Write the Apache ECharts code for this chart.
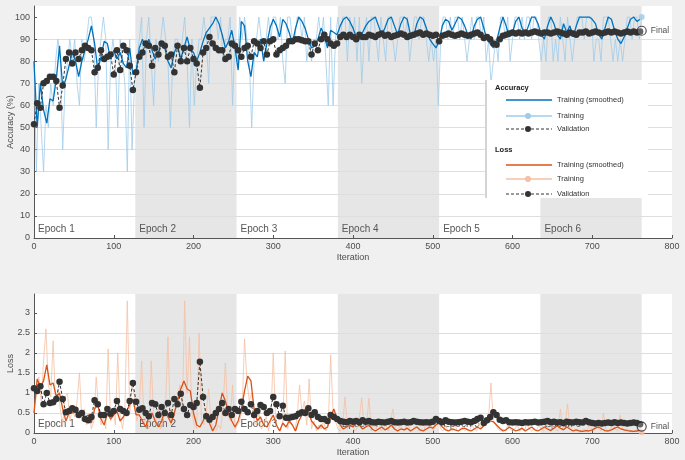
<!DOCTYPE html>
<html><head><meta charset="utf-8">
<script src="https://cdn.jsdelivr.net/npm/echarts@6/dist/echarts.min.js"></script>
<style>html,body{margin:0;padding:0;background:#f0f0f0;}#c{width:685px;height:460px;}</style>
</head><body><div id="c"></div>
<script>
// ---------- data ----------
const epochNames = ['Epoch 1','Epoch 2','Epoch 3','Epoch 4','Epoch 5','Epoch 6'];
const epochBounds = [0,127,254,381,508,635,762];
const xTicks = [0,100,200,300,400,500,600,700,800];
const accTicks = [0,10,20,30,40,50,60,70,80,90,100];
const lossTicks = [0,0.5,1,1.5,2,2.5,3];
const legendGroups = ['Accuracy','Loss'];
const legendLabels = ['Training (smoothed)','Training','Validation'];
const rawStep = 3;     // iterations between raw training samples
const avgStep = 4;     // iterations between smoothed / validation samples

const accRaw = [
 80,30,70,50,30,60,50,70,60,80,
 90,80,40,70,80,90,80,90,70,60,
 90,80,90,100,100,90,50,80,90,100,
 90,40,80,90,80,50,90,80,70,30,
 90,40,70,80,90,100,50,90,100,80,
 60,90,80,90,100,90,80,50,80,90,
 90,80,90,100,80,50,90,60,80,90,
 90,100,90,70,100,100,100,90,100,80,
 90,90,100,60,90,80,100,90,100,90,
 80,50,80,90,100,90,80,90,100,90,
 100,100,90,100,80,70,100,100,90,90,
 100,100,90,100,80,90,80,90,90,100,
 90,100,80,60,100,60,90,100,90,100,
 100,80,100,90,100,80,100,70,90,100,
 80,100,100,90,80,100,90,80,100,100,
 90,80,90,100,100,90,100,80,90,100,
 100,90,100,100,90,80,90,80,90,60,
 90,100,100,90,100,90,100,100,90,100,
 90,80,90,100,90,100,100,90,100,80,
 90,70,80,90,80,100,100,90,100,80,
 90,100,100,90,100,90,100,100,90,100,
 100,90,80,90,80,100,100,80,90,80,
 100,90,80,100,90,80,90,100,100,100,
 90,100,100,100,80,90,90,80,100,100,
 100,90,80,90,80,90,80,90,100,100,
 90,100,100,90,100];

const accSmooth = [
 80,50,70,58,52,63,62,72,87,68,
 72,78,84,80,73,80,85,90,96,88,
 76,82,89,88,81,85,81,84,79,77,
 86,74,75,86,90,86,90,85,81,84,
 89,86,80,77,84,87,81,86,91,85,
 84,80,84,89,93,95,97,100,97,92,
 86,89,94,86,76,98,96,80,73,84,
 82,90,80,88,95,99,96,91,99,97,
 93,88,95,100,98,95,90,86,87,90,
 95,92,86,94,93,92,96,99,100,98,
 95,91,90,93,96,98,99,100,96,92,
 95,99,100,96,92,97,100,99,92,91,
 97,100,99,95,90,88,86,89,96,99,
 98,94,97,100,99,96,92,90,96,99,
 100,95,90,88,86,89,95,100,96,91,
 93,98,100,95,92,96,100,100,97,92,
 90,96,100,97,92,90,97,93,96,91,
 96,100,100,100,100,99,97,92,90,95,
 100,99,94,90,88,91,95,99,100,98,
 99];

const accVal = [
 51.5,61,59,70,71,73,73,71,59,69,
 81,84,79,84,81,85,87,86,85,75,
 77,85,81,82,83,74,85,76,87,85,
 78,67,75,82,84,88,87,78,86,83,
 88,87,82,83,75,87,80,86,80,86,
 81,79,68,84,86,91,88,86,85,85,
 81,82,88,87,85,82,86,87,82,89,
 88,86,89,83,89,90,83,85,86,87,
 89,89,90,90,89.5,89,89,83,88,85,
 90,92,90,88,87,88,91,92,91,92,
 91,90,92,91,91,92,91.5,91,92,92.5,
 91.5,92,91,91.5,92,92.5,92,91,91.5,92,
 92.5,93,92,92.5,92,91.5,92,89,91.5,92,
 92.5,92,91.5,92,92.5,92,91.5,92,92.5,93,
 92,90.5,91,90,88,87.5,90,91.5,92,92.5,
 93,92.5,93,92.5,93,92.5,93,93.5,93,92.5,
 93,93,92.5,93,93.5,93,92.5,92,93,92.5,
 92,93,93,93.5,92.5,93,93.5,93,92.5,93,
 93.5,93,93.5,93,92.5,93,93.5,93,93.5,93,
 93.5];

const lossRaw = [
 0.5,0.95,1.4,0.8,1.8,2.6,1.2,0.9,2.3,0.7,
 1.1,0.6,0.2,0.9,1.0,0.3,0.6,0.4,0.8,1.5,
 0.3,0.6,0.2,0.5,0.1,0.3,1.4,0.6,0.2,0.4,
 0.1,2.1,0.3,0.6,0.2,2.0,0.4,0.1,0.6,3.3,
 0.5,1.2,0.9,0.3,0.6,1.8,0.2,0.5,0.1,1.8,
 0.4,0.2,0.6,0.1,0.3,0.7,2.4,0.2,0.4,0.6,
 0.9,1.2,0.6,3.3,1.0,2.4,0.5,0.2,0.1,2.5,
 0.3,0.2,0.5,1.1,0.3,0.1,0.05,0.2,0.1,0.6,
 1.75,0.5,0.3,1.2,0.1,0.2,0.3,0.6,2.35,1.3,
 0.8,1.0,0.3,0.2,0.5,0.1,0.2,0.4,0.05,0.3,
 2.0,0.3,0.1,0.05,0.3,2.05,0.1,0.3,0.2,0.05,
 0.4,1.2,0.5,0.8,0.2,1.35,0.1,0.3,0.05,0.2,
 0.1,0.3,0.05,0.2,1.95,0.5,0.3,0.1,0.05,0.2,
 0.9,0.1,0.2,0.3,0.05,0.1,0.4,0.88,0.1,0.2,
 0.87,0.05,0.2,0.1,0.3,0.05,0.1,0.2,0.05,0.3,
 0.6,0.1,0.05,0.2,0.1,0.05,0.3,0.1,0.05,0.15,
 0.2,0.05,0.1,0.05,0.3,0.1,0.2,0.05,0.3,0.35,
 0.1,0.05,0.2,0.05,0.1,0.05,0.2,0.05,0.1,0.15,
 0.05,0.1,0.05,0.2,0.1,0.05,0.25,0.1,0.3,0.2,
 0.4,1.25,0.3,0.2,0.1,0.05,0.1,0.05,0.2,0.1,
 0.05,0.1,0.2,0.05,0.1,0.05,0.25,0.1,0.05,0.1,
 0.05,0.2,0.1,0.05,0.3,0.1,0.05,0.2,0.1,0.05,
 0.6,0.1,0.2,0.73,0.1,0.05,0.1,0.05,0.02,0.05,
 0.1,0.05,0.2,0.1,0.05,0.3,0.1,0.05,0.5,0.1,
 0.05,0.1,0.2,0.1,0.05,0.45,0.1,0.05,0.1,0.05,
 0.02,0.05,0.1,0.05,0.02];

const lossSmooth = [
 0.5,1.35,1.15,1.3,1.7,1.2,1.25,0.9,1.0,0.6,
 0.3,0.5,0.5,0.55,0.45,0.5,0.4,0.45,0.25,0.6,
 0.7,0.35,0.2,0.5,0.35,0.45,0.55,0.3,0.4,0.55,
 0.7,0.85,0.45,0.45,0.3,0.15,0.4,0.5,0.3,0.15,
 0.3,0.55,0.4,0.25,0.5,0.8,1.1,1.3,1.1,1.05,
 0.5,0.2,0.15,0.3,0.5,0.25,0.05,0.2,0.6,1.0,
 0.8,0.5,0.3,0.15,0.3,0.6,1.05,1.42,1.3,0.6,
 0.3,0.4,0.2,0.15,0.3,0.45,0.2,0.05,0.25,0.15,
 0.3,0.2,0.05,0.3,0.45,0.6,0.55,0.3,0.2,0.1,
 0.2,0.1,0.15,0.4,0.6,0.35,0.2,0.1,0.15,0.2,
 0.15,0.25,0.2,0.1,0.15,0.2,0.1,0.05,0.1,0.15,
 0.08,0.12,0.2,0.1,0.05,0.1,0.08,0.12,0.05,0.1,
 0.15,0.08,0.05,0.1,0.15,0.12,0.2,0.25,0.15,0.08,
 0.05,0.1,0.08,0.05,0.1,0.12,0.08,0.05,0.1,0.15,
 0.1,0.18,0.25,0.3,0.28,0.2,0.12,0.05,0.08,0.15,
 0.1,0.05,0.08,0.12,0.05,0.1,0.15,0.08,0.05,0.1,
 0.15,0.1,0.06,0.12,0.18,0.12,0.08,0.15,0.1,0.05,
 0.08,0.05,0.04,0.06,0.05,0.08,0.12,0.15,0.1,0.06,
 0.05,0.08,0.12,0.15,0.1,0.08,0.06,0.05,0.04,0.05,
 0.06];

const lossVal = [
 1.12,1.05,1.17,0.72,1.0,0.75,0.77,0.85,1.28,0.85,
 0.52,0.55,0.62,0.58,0.45,0.5,0.35,0.32,0.4,0.82,
 0.72,0.45,0.45,0.6,0.48,0.55,0.8,0.6,0.55,0.5,
 0.8,1.25,0.78,0.58,0.62,0.5,0.42,0.75,0.72,0.45,
 0.65,0.5,0.75,0.45,0.85,0.72,0.98,0.6,0.45,0.7,
 0.65,0.75,1.78,0.9,0.42,0.33,0.4,0.5,0.6,0.75,
 0.5,0.6,0.45,0.6,0.55,0.78,0.6,0.52,0.72,0.45,
 0.55,0.7,0.65,0.5,0.55,0.9,0.72,0.42,0.68,0.38,
 0.38,0.4,0.42,0.48,0.52,0.5,0.62,0.45,0.52,0.4,
 0.35,0.35,0.3,0.45,0.4,0.35,0.3,0.28,0.27,0.3,
 0.28,0.3,0.27,0.32,0.28,0.3,0.27,0.26,0.28,0.27,
 0.26,0.28,0.3,0.27,0.26,0.27,0.28,0.26,0.27,0.3,
 0.28,0.27,0.26,0.27,0.26,0.28,0.35,0.3,0.27,0.32,
 0.28,0.27,0.26,0.27,0.28,0.3,0.28,0.27,0.3,0.35,
 0.38,0.25,0.32,0.4,0.52,0.45,0.33,0.3,0.32,0.27,
 0.26,0.27,0.26,0.25,0.27,0.26,0.27,0.28,0.26,0.27,
 0.28,0.3,0.27,0.28,0.26,0.27,0.25,0.28,0.27,0.26,
 0.28,0.27,0.26,0.3,0.27,0.25,0.24,0.25,0.24,0.25,
 0.26,0.25,0.27,0.25,0.26,0.25,0.24,0.25,0.26,0.25,
 0.22];

const finalIter = 762;
const finalAcc = 93.8;
const finalLoss = 0.16;
const finalLabel = 'Final';

// ---------- build ----------
const FONT = "'Liberation Sans', Arial, Helvetica, sans-serif";
const C = {
  accSmooth:'#0072bd', accRaw:'#9fcbea', val:'#333333',
  lossSmooth:'#d95319', lossRaw:'#f5c0a3', text:'#4d4d4d', grid:'#dedede', shade:'#e6e6e6'
};
const pairs = (arr, step) => arr.map((v, i) => [i * step, v]);

function epochAreas() {
  const out = [];
  for (let i = 0; i < epochNames.length; i++) {
    out.push([
      { name: epochNames[i], xAxis: epochBounds[i],
        itemStyle: { color: i % 2 === 1 ? C.shade : 'rgba(0,0,0,0)' } },
      { xAxis: epochBounds[i + 1] }
    ]);
  }
  return out;
}

function xAxisCfg(idx) {
  return {
    gridIndex: idx, type: 'value', min: 0, max: 800, interval: 100, z: 2,
    name: 'Iteration', nameLocation: 'middle', nameGap: 15, nameMoveOverlap: false,
    nameTextStyle: { color: C.text, fontSize: 9, fontFamily: FONT },
    axisLine: { show: true, onZero: false, lineStyle: { color: '#555', width: 1 } },
    axisTick: { show: true, inside: true, length: 3, customValues: xTicks, lineStyle: { color: '#555' } },
    axisLabel: { color: C.text, fontSize: 9, margin: 4, fontFamily: FONT, customValues: xTicks },
    splitLine: { show: false }
  };
}
function yAxisCfg(idx, max, ticks, name) {
  return {
    gridIndex: idx, type: 'value', min: 0, max: max, z: 2,
    name: name, nameLocation: 'middle', nameGap: 19, nameMoveOverlap: false,
    nameTextStyle: { color: C.text, fontSize: 9, fontFamily: FONT },
    axisLine: { show: true, onZero: false, lineStyle: { color: '#555', width: 1 } },
    axisTick: { show: true, inside: true, length: 3, customValues: ticks, lineStyle: { color: '#555' } },
    axisLabel: { color: C.text, fontSize: 9, margin: 4, fontFamily: FONT, customValues: ticks,
      formatter: v => ticks.includes(v) ? String(v) : '' },
    splitLine: { show: true, showMinLine: false, showMaxLine: false, lineStyle: { color: C.grid, width: 1 } }
  };
}

function panelSeries(idx, raw, smooth, val, rawColor, smoothColor, finalVal) {
  return [
    { type: 'line', xAxisIndex: idx, yAxisIndex: idx, data: [], z: 1, silent: true,
      markArea: { silent: true, data: epochAreas(),
        label: { show: true, position: 'insideBottomLeft', distance: 4,
          color: '#555', fontSize: 10, fontFamily: FONT } } },
    { type: 'line', xAxisIndex: idx, yAxisIndex: idx, data: pairs(raw, rawStep), z: 3,
      symbol: 'none', lineStyle: { color: rawColor, width: 0.8 }, silent: true },
    { type: 'line', xAxisIndex: idx, yAxisIndex: idx, data: pairs(smooth, avgStep), z: 4,
      symbol: 'none', lineStyle: { color: smoothColor, width: 1.3 }, silent: true },
    { type: 'line', xAxisIndex: idx, yAxisIndex: idx, data: pairs(val, avgStep), z: 5,
      symbol: 'circle', symbolSize: 6.5, showSymbol: true,
      itemStyle: { color: C.val }, lineStyle: { color: C.val, width: 1, type: [3, 2] }, silent: true },
    { type: 'scatter', xAxisIndex: idx, yAxisIndex: idx, z: 6, silent: true,
      data: [[finalIter, raw[raw.length - 1]]], symbolSize: 6, itemStyle: { color: rawColor } },
    { type: 'scatter', xAxisIndex: idx, yAxisIndex: idx, z: 7, silent: true,
      data: [[finalIter, finalVal]], symbolSize: 9,
      itemStyle: { color: 'rgba(255,255,255,0.3)', borderColor: '#222', borderWidth: 1.2 },
      label: { show: true, position: 'right', distance: 4, formatter: finalLabel,
        color: '#222', fontSize: 8.5, fontFamily: FONT } }
  ];
}

// legend graphic
const LX = 485, LY = 80;
const legendItems = [];
legendItems.push({ type: 'rect', shape: { x: LX, y: LY, width: 163, height: 118 }, style: { fill: '#ffffff' }, z: 20 });
legendItems.push({ type: 'line', shape: { x1: LX + 1, y1: LY, x2: LX + 1, y2: LY + 118 }, style: { stroke: '#d4d4d4', lineWidth: 2 }, z: 21 });
const legendStyles = [
  [{ color: C.accSmooth, w: 1.5 }, { color: C.accRaw, w: 1.5, dot: C.accRaw }, { color: C.val, w: 1, dash: [3, 2], dot: C.val }],
  [{ color: C.lossSmooth, w: 1.5 }, { color: C.lossRaw, w: 1.5, dot: C.lossRaw }, { color: C.val, w: 1, dash: [3, 2], dot: C.val }]
];
const groupY = [88, 150];
const rowY = [[100, 116, 129], [165, 179, 194]];
legendGroups.forEach((g, gi) => {
  legendItems.push({ type: 'text', x: LX + 10, y: groupY[gi], z: 22,
    style: { text: g, fill: '#222', font: 'bold 7.5px ' + FONT, verticalAlign: 'middle' } });
  legendLabels.forEach((lab, li) => {
    const st = legendStyles[gi][li], y = rowY[gi][li];
    legendItems.push({ type: 'line', z: 22, shape: { x1: LX + 21, y1: y, x2: LX + 67, y2: y },
      style: { stroke: st.color, lineWidth: st.w, lineDash: st.dash || null } });
    if (st.dot) legendItems.push({ type: 'circle', z: 23, shape: { cx: LX + 43, cy: y, r: 3 }, style: { fill: st.dot } });
    legendItems.push({ type: 'text', x: LX + 72, y: y, z: 22,
      style: { text: lab, fill: '#333', font: '7.5px ' + FONT, verticalAlign: 'middle' } });
  });
});

const chart = echarts.init(document.getElementById('c'), null, { renderer: 'canvas' });
chart.setOption({
  animation: false,
  backgroundColor: '#f0f0f0',
  textStyle: { fontFamily: FONT },
  grid: [
    { left: 34, right: 13, top: 6, height: 232, show: true, backgroundColor: '#ffffff', borderWidth: 0,
      containLabel: false, outerBoundsMode: 'none' },
    { left: 34, right: 13, top: 294, height: 139, show: true, backgroundColor: '#ffffff', borderWidth: 0,
      containLabel: false, outerBoundsMode: 'none' }
  ],
  xAxis: [xAxisCfg(0), xAxisCfg(1)],
  yAxis: [yAxisCfg(0, 105, accTicks, 'Accuracy (%)'), yAxisCfg(1, 3.47, lossTicks, 'Loss')],
  series: [
    ...panelSeries(0, accRaw, accSmooth, accVal, C.accRaw, C.accSmooth, finalAcc),
    ...panelSeries(1, lossRaw, lossSmooth, lossVal, C.lossRaw, C.lossSmooth, finalLoss)
  ],
  graphic: legendItems
});
</script></body></html>
